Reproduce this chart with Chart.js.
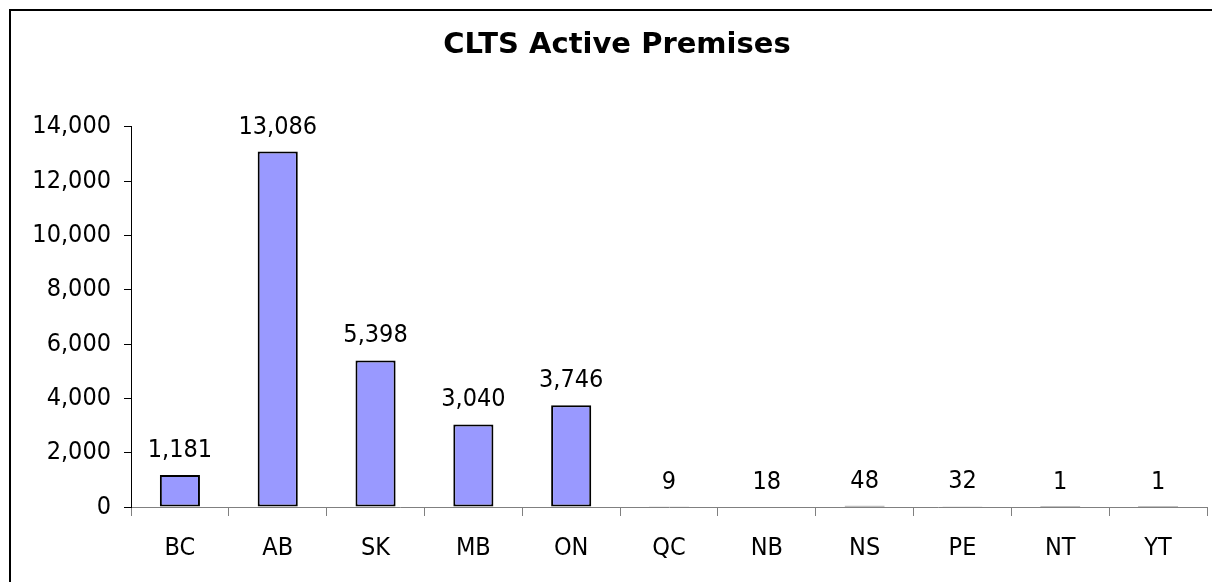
<!DOCTYPE html>
<html>
<head>
<meta charset="utf-8">
<script src="https://cdn.jsdelivr.net/npm/chart.js@4"></script>
<style>
  html, body { margin: 0; padding: 0; background: #fff; }
  #wrap { position: absolute; left: 0; top: 0; width: 1212px; height: 582px; }
</style>
</head>
<body>
<div id="wrap"><canvas id="idCanvas" width="1212" height="582"></canvas></div>
<script>
// dati
const provinces = ['BC', 'AB', 'SK', 'MB', 'ON', 'QC', 'NB', 'NS', 'PE', 'NT', 'YT'];
const premises = [1181, 13086, 5398, 3040, 3746, 9, 18, 48, 32, 1, 1];
const yTicks = [0, 2000, 4000, 6000, 8000, 10000, 12000, 14000];

const tickFont = { family: '"DejaVu Sans Condensed", "DejaVu Sans", sans-serif', size: 25 };

// cornice in alto e a sinistra, come nel ritaglio originale
const framePlugin = {
    id: 'frame',
    beforeDraw(chart) {
        const ctx = chart.ctx;
        ctx.save();
        ctx.strokeStyle = '#000';
        ctx.lineWidth = 2;
        ctx.beginPath();
        ctx.moveTo(10, 582);
        ctx.lineTo(10, 10);
        ctx.lineTo(1212, 10);
        ctx.stroke();
        ctx.restore();
    }
};

// etichette dei valori sopra le barre
const valueLabels = {
    id: 'valueLabels',
    afterDatasetsDraw(chart) {
        const ctx = chart.ctx;
        const meta = chart.getDatasetMeta(0);
        ctx.save();
        ctx.font = tickFont.size + 'px ' + tickFont.family;
        ctx.fillStyle = '#000';
        ctx.textAlign = 'center';
        ctx.textBaseline = 'alphabetic';
        meta.data.forEach((bar, i) => {
            ctx.fillText(premises[i].toLocaleString('en-US'), bar.x, bar.y - 18);
        });
        ctx.restore();
    }
};

new Chart(document.getElementById('idCanvas').getContext('2d'), {
    type: 'bar',
    data: {
        labels: provinces,
        datasets: [{
            data: premises,
            backgroundColor: '#9999FF',
            borderColor: '#000',
            borderWidth: 2,
            borderSkipped: false,
            barPercentage: 0.41,
            categoryPercentage: 1
        }]
    },
    options: {
        responsive: false,
        animation: false,
        layout: { padding: { left: 27, right: 5, top: 0, bottom: 0 } },
        plugins: {
            legend: { display: false },
            tooltip: { enabled: false },
            title: {
                display: true,
                text: 'CLTS Active Premises',
                color: '#000',
                font: { family: '"DejaVu Sans", sans-serif', size: 29, weight: 'bold' },
                padding: { top: 28, bottom: 64 }
            }
        },
        scales: {
            x: {
                grid: {
                    offset: true,
                    drawOnChartArea: false,
                    tickLength: 9,
                    color: '#808080'
                },
                border: { color: '#808080', width: 1 },
                ticks: { color: '#000', font: tickFont, padding: 17, maxRotation: 0 },
                afterFit(scale) { scale.height = 75; }
            },
            y: {
                min: 0,
                max: 14000,
                afterBuildTicks(scale) { scale.ticks = yTicks.map(v => ({ value: v })); },
                grid: {
                    drawOnChartArea: false,
                    tickLength: 7,
                    color: '#000'
                },
                border: { color: '#000', width: 1 },
                ticks: {
                    color: '#000',
                    font: tickFont,
                    padding: 13,
                    callback: v => v.toLocaleString('en-US')
                },
                afterFit(scale) { scale.width = 104; }
            }
        }
    },
    plugins: [framePlugin, valueLabels]
});
</script>
</body>
</html>
